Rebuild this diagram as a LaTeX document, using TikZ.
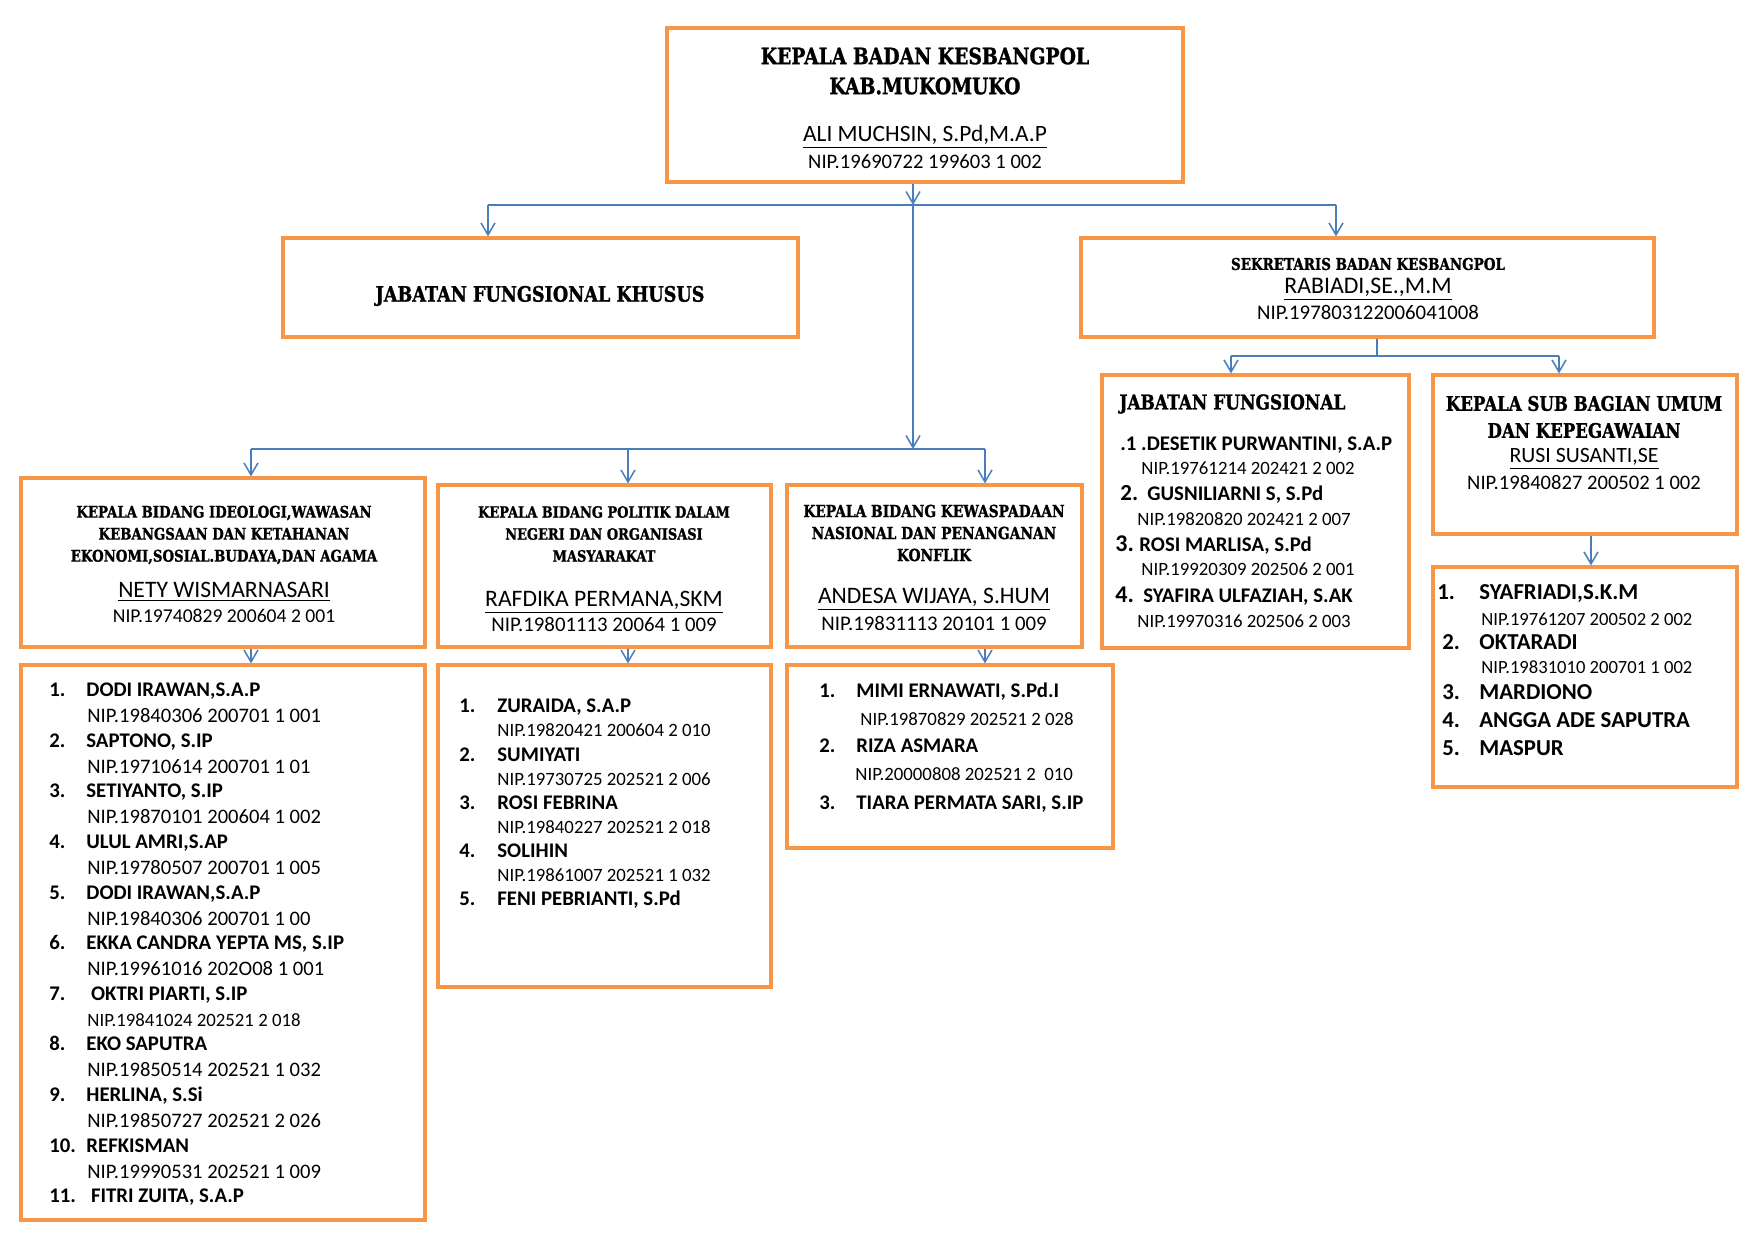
\documentclass[tikz,border=0pt]{standalone}
\usepackage{fontspec}
\setmainfont{Carlito}
\newfontfamily\headfont[FakeStretch=0.83,FakeBold=1.2]{DejaVu Serif}
\usepackage{tikz}
\usetikzlibrary{arrows.meta,calc,positioning}
\definecolor{boxorange}{RGB}{247,150,70}
\definecolor{linkblue}{RGB}{74,126,187}
\newcommand\fsz[2]{\fontsize{#1}{#2}\selectfont}

\begin{document}
\begin{tikzpicture}[x=0.5pt,y=-0.5pt,
    orgbox/.style={draw=boxorange,line width=1.6pt,inner sep=0pt},
    link/.style={draw=linkblue,line width=0.75pt},
    arr/.style={link,-{Straight Barb[length=6pt,width=7pt]}},
    hd/.style 2 args={inner sep=0pt,yshift=-1.5pt,align=center,font=\headfont\bfseries\fsz{#1}{#2}},
    tc/.style={inner sep=0pt,yshift=-2pt,anchor=mid,font=\fsz{#1}{#1}},
    tx/.style={inner sep=0pt,yshift=-2pt,anchor=mid west,font=\fsz{#1}{#1}},
    tb/.style={inner sep=0pt,yshift=-2pt,anchor=mid west,font=\bfseries\fsz{#1}{#1}}]
    \fill[white] (0,0) rectangle (1755,1240);
    \useasboundingbox (0,0) rectangle (1755,1240);

    % boxes
    \node[orgbox,minimum width=258pt,minimum height=77pt] (top) at (925,105) {};
    \node[orgbox,minimum width=257.5pt,minimum height=49.5pt] (jfk) at (540.5,287.5) {};
    \node[orgbox,minimum width=286.5pt,minimum height=49.5pt] (sek) at (1367.5,287.5) {};
    \node[orgbox,minimum width=153.5pt,minimum height=136.5pt] (jf) at (1255.5,511.5) {};
    \node[orgbox,minimum width=152pt,minimum height=79.5pt] (sub) at (1585,454.5) {};
    \node[orgbox,minimum width=152pt,minimum height=110pt] (subList) at (1585,677) {};
    \node[orgbox,minimum width=202pt,minimum height=84.5pt] (ideo) at (223,562.5) {};
    \node[orgbox,minimum width=202pt,minimum height=277.5pt] (ideoList) at (223,942.5) {};
    \node[orgbox,minimum width=166.5pt,minimum height=81pt] (pol) at (604.5,566) {};
    \node[orgbox,minimum width=166.5pt,minimum height=161pt] (polList) at (604.5,826) {};
    \node[orgbox,minimum width=147.5pt,minimum height=81pt] (kew) at (934.5,566) {};
    \node[orgbox,minimum width=163pt,minimum height=91.5pt] (kewList) at (950,756.5) {};

    % connectors
    \coordinate (trunkTop) at (913,205);
    \coordinate (trunkLow) at (913,449);
    \coordinate (busL) at (488,205);
    \coordinate (busR) at (1336,205);
    \draw[arr] (top.south -| trunkTop) -- (trunkTop);
    \draw[link] (busL) -- (busR);
    \draw[arr] (busL) -- (busL |- jfk.north);
    \draw[arr] (busR) -- (busR |- sek.north);
    \draw[arr] (trunkTop) -- (trunkLow);
    \coordinate (busBL) at (251,449);
    \coordinate (busBM) at (628,449);
    \coordinate (busBR) at (985,449);
    \draw[link] (busBL) -- (busBR);
    \draw[arr] (busBL) -- (busBL |- ideo.north);
    \draw[arr] (busBM) -- (busBM |- pol.north);
    \draw[arr] (busBR) -- (busBR |- kew.north);
    \coordinate (sekDrop) at (1377,356);
    \coordinate (sekL) at (1231,356);
    \coordinate (sekR) at (1559,356);
    \draw[link] (sek.south -| sekDrop) -- (sekDrop);
    \draw[link] (sekL) -- (sekR);
    \draw[arr] (sekL) -- (sekL |- jf.north);
    \draw[arr] (sekR) -- (sekR |- sub.north);
    \draw[arr] (ideo.south -| busBL) -- (ideoList.north -| busBL);
    \draw[arr] (pol.south -| busBM) -- (polList.north -| busBM);
    \draw[arr] (kew.south -| busBR) -- (kewList.north -| busBR);
    \draw[arr] ([xshift=3pt]sub.south) -- ([xshift=3pt]subList.north);

    % top
    \node[hd={11.3}{15}] (topHead) at (925,68) {KEPALA BADAN KESBANGPOL\\KAB.MUKOMUKO};
    \node[tc=11.7] (topName) at (925,133) {\underline{ALI MUCHSIN, S.Pd,M.A.P}};
    \node[tc=10.3] (topNip) at (925,160) {NIP.19690722 199603 1 002};

    \node[hd={10.6}{12}] (jfkHead) at (540,293) {JABATAN FUNGSIONAL KHUSUS};

    \node[hd={8.1}{10}] (sekHead) at (1368,261) {SEKRETARIS BADAN KESBANGPOL};
    \node[tc=11.9] (sekName) at (1368,285) {\underline{RABIADI,SE.,M.M}};
    \node[tc=10.4] (sekNip) at (1368,311) {NIP.197803122006041008};

    % bidang
    \node[hd={8}{11}] (ideoHead) at (224,532) {KEPALA BIDANG IDEOLOGI,WAWASAN\\KEBANGSAAN DAN KETAHANAN\\EKONOMI,SOSIAL.BUDAYA,DAN AGAMA};
    \node[tc=11.8] (ideoName) at (224,589) {\underline{NETY WISMARNASARI}};
    \node[tc=9.8] (ideoNip) at (224,614) {NIP.19740829 200604 2 001};

    \node[hd={7.8}{11}] (polHead) at (604,531) {KEPALA BIDANG POLITIK DALAM\\NEGERI DAN ORGANISASI\\MASYARAKAT};
    \node[tc=11.8] (polName) at (604,598) {\underline{RAFDIKA PERMANA,SKM}};
    \node[tc=10.4] (polNip) at (604,623) {NIP.19801113 20064 1 009};

    \node[hd={8.3}{11}] (kewHead) at (934,530) {KEPALA BIDANG KEWASPADAAN\\NASIONAL DAN PENANGANAN\\KONFLIK};
    \node[tc=11.8] (kewName) at (934,595) {\underline{ANDESA WIJAYA, S.HUM}};
    \node[tc=10.4] (kewNip) at (934,622) {NIP.19831113 20101 1 009};

    % ideologi list
    \foreach \t [count=\k] in {{DODI IRAWAN,S.A.P},{SAPTONO, S.IP},{SETIYANTO, S.IP},
        {ULUL AMRI,S.AP},{DODI IRAWAN,S.A.P},{EKKA CANDRA YEPTA MS, S.IP},
        {\ OKTRI PIARTI, S.IP},{EKO SAPUTRA},{HERLINA, S.Si},{REFKISMAN},{\ FITRI ZUITA, S.A.P}} {
      \pgfmathsetmacro\yy{688+(\k-1)*50.6}
      \node[tb=10.4] (ideoNum\k) at (49,\yy) {\k.};
      \node[tb=10.4] (ideoItem\k) at (86,\yy) {\t};
    }
    \foreach \t [count=\k] in {{NIP.19840306 200701 1 001},{NIP.19710614 200701 1 01},
        {NIP.19870101 200604 1 002},{NIP.19780507 200701 1 005},{NIP.19840306 200701 1 00},
        {NIP.19961016 202O08 1 001},{\fsz{9.4}{9.4}NIP.19841024 202521 2 018},
        {NIP.19850514 202521 1 032},{NIP.19850727 202521 2 026},{NIP.19990531 202521 1 009}} {
      \pgfmathsetmacro\yy{714+(\k-1)*50.6}
      \node[tx=10.3] (ideoNip\k) at (87,\yy) {\t};
    }

    % politik list
    \foreach \t [count=\k] in {{ZURAIDA, S.A.P},{SUMIYATI},{ROSI FEBRINA},{SOLIHIN},{FENI PEBRIANTI, S.Pd}} {
      \pgfmathsetmacro\yy{704+(\k-1)*48.25}
      \node[tb=10.4] (polNum\k) at (459,\yy) {\k.};
      \node[tb=10.4] (polItem\k) at (497,\yy) {\t};
    }
    \foreach \t [count=\k] in {{NIP.19820421 200604 2 010},{NIP.19730725 202521 2 006},
        {NIP.19840227 202521 2 018},{NIP.19861007 202521 1 032}} {
      \pgfmathsetmacro\yy{728+(\k-1)*48.25}
      \node[tx=9.4] (polNip\k) at (497,\yy) {\t};
    }

    % kewaspadaan list
    \node[tb=10.4] (kewNum1) at (819,689) {1.};
    \node[tb=10.4] (kewItem1) at (856,689) {MIMI ERNAWATI, S.Pd.I};
    \node[tx=9.4] (kewNip1) at (860,717) {NIP.19870829 202521 2 028};
    \node[tb=10.4] (kewNum2) at (819,744) {2.};
    \node[tb=10.4] (kewItem2) at (856,744) {RIZA ASMARA};
    \node[tx=9.4] (kewNip2) at (855,772) {NIP.20000808 202521 2\ \ 010};
    \node[tb=10.4] (kewNum3) at (819,801) {3.};
    \node[tb=10.4] (kewItem3) at (856,801) {TIARA PERMATA SARI, S.IP};

    % jabatan fungsional
    \node[hd={10.2}{12},anchor=west] (jfHead) at (1119,401) {JABATAN FUNGSIONAL};
    \node[tb=10.4] (jfItem1) at (1120,442) {.1 .DESETIK PURWANTINI, S.A.P};
    \node[tx=9.4] (jfNip1) at (1141,466) {NIP.19761214 202421 2 002};
    \node[tb=11.5] (jfNum2) at (1120,492) {2.};
    \node[tb=10.4] (jfItem2) at (1147,492) {GUSNILIARNI S, S.Pd};
    \node[tx=9.4] (jfNip2) at (1137,517) {NIP.19820820 202421 2 007};
    \node[tb=12] (jfNum3) at (1115,543) {3.};
    \node[tb=10.4] (jfItem3) at (1139,543) {ROSI MARLISA, S.Pd};
    \node[tx=9.4] (jfNip3) at (1141,567) {NIP.19920309 202506 2 001};
    \node[tb=12] (jfNum4) at (1115,594) {4.};
    \node[tb=10.4] (jfItem4) at (1143,594) {SYAFIRA ULFAZIAH, S.AK};
    \node[tx=9.4] (jfNip4) at (1137,619) {NIP.19970316 202506 2 003};

    % sub bagian
    \node[hd={10}{13.5}] (subHead) at (1584,414) {KEPALA SUB BAGIAN UMUM\\DAN KEPEGAWAIAN};
    \node[tc=10.9] (subName) at (1584,454) {\underline{RUSI SUSANTI,SE}};
    \node[tc=10.3] (subNip) at (1584,481) {NIP.19840827 200502 1 002};
    \node[tb=11.4] (subNum1) at (1437,591) {1.};
    \node[tb=11.4] (subItem1) at (1479,591) {SYAFRIADI,S.K.M};
    \node[tx=9.3] (subNip1) at (1481,617) {NIP.19761207 200502 2 002};
    \node[tb=11.4] (subNum2) at (1442,641) {2.};
    \node[tb=11.4] (subItem2) at (1479,641) {OKTARADI};
    \node[tx=9.3] (subNip2) at (1481,665) {NIP.19831010 200701 1 002};
    \node[tb=11.4] (subNum3) at (1442,691) {3.};
    \node[tb=11.4] (subItem3) at (1479,691) {MARDIONO};
    \node[tb=11.4] (subNum4) at (1442,719) {4.};
    \node[tb=11.4] (subItem4) at (1479,719) {ANGGA ADE SAPUTRA};
    \node[tb=11.4] (subNum5) at (1442,747) {5.};
    \node[tb=11.4] (subItem5) at (1479,747) {MASPUR};
\end{tikzpicture}
\end{document}
